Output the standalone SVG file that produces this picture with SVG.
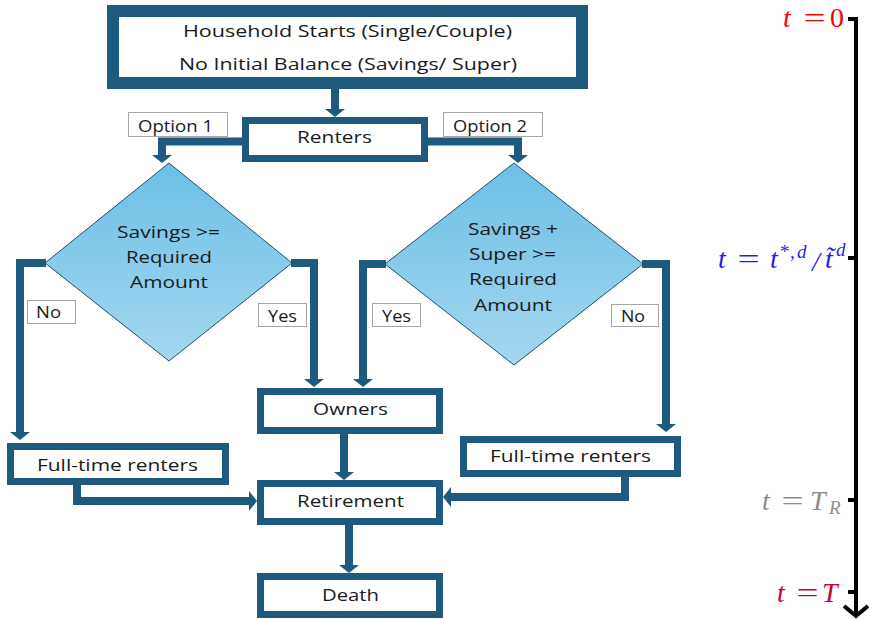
<svg xmlns="http://www.w3.org/2000/svg" width="870" height="619" viewBox="0 0 870 619">
<defs>
<style>
.box{fill:#fff;stroke:#1d5a7e;}
.t{font-family:"Open Sans","Liberation Sans",sans-serif;font-size:17px;fill:#1a1a1a;text-anchor:middle;}
.lbl{fill:#fff;stroke:#a6a6a6;stroke-width:1;}
.conn{fill:none;stroke:#1d5a7e;stroke-width:8;stroke-linejoin:miter;marker-end:url(#ah);}
.dia{fill:url(#dg);stroke:#1e4e6a;stroke-width:1;}
.m{font-family:"Liberation Serif","Times New Roman",serif;font-size:28px;}
.mi{font-style:italic;}
.eq{text-anchor:middle;}
.tl{fill:none;stroke:#000;stroke-width:4;}
</style>
<linearGradient id="dg" x1="0" y1="0" x2="0" y2="1">
<stop offset="0" stop-color="#6cbfe7"/>
<stop offset="1" stop-color="#a4d7f0"/>
</linearGradient>
<marker id="ah" markerUnits="userSpaceOnUse" viewBox="0 -10 8 20" refX="0" refY="0" markerWidth="8" markerHeight="20" orient="auto">
<path d="M0,-10 L8,0 L0,10 z" fill="#1d5a7e"/>
</marker>
</defs>

<g id="connectors">
<path class="conn" d="M335,89 V109"/>
<path class="conn" d="M242,141.5 H162 V155"/>
<path class="conn" d="M428,141.5 H518 V155"/>
<path class="conn" d="M46,263 H20 V432"/>
<path class="conn" d="M291,263 H314 V379"/>
<path class="conn" d="M386,264 H363 V379"/>
<path class="conn" d="M642,264 H666 V424"/>
<path class="conn" d="M344,434 V472"/>
<path class="conn" d="M77,485 V501 H249"/>
<path class="conn" d="M625,477 V497 H451"/>
<path class="conn" d="M349,525 V565"/>
</g>

<g id="start">
<rect class="box" x="113" y="11" width="469" height="72" stroke-width="12"/>
<text class="t" x="347.5" y="37" textLength="329" lengthAdjust="spacingAndGlyphs">Household Starts (Single/Couple)</text>
<text class="t" x="348" y="70" textLength="338" lengthAdjust="spacingAndGlyphs">No Initial Balance (Savings/ Super)</text>
</g>

<g id="renters">
<rect class="box" x="245.5" y="120.5" width="179" height="38" stroke-width="7"/>
<text class="t" x="334.5" y="143" textLength="75" lengthAdjust="spacingAndGlyphs">Renters</text>
</g>

<g id="option1">
<rect class="lbl" x="128.5" y="112.5" width="99" height="24"/>
<text class="t" x="175.5" y="132" font-size="16" textLength="75" lengthAdjust="spacingAndGlyphs">Option 1</text>
</g>
<g id="option2">
<rect class="lbl" x="443.5" y="112.5" width="99" height="24"/>
<text class="t" x="490" y="132" font-size="16" textLength="74" lengthAdjust="spacingAndGlyphs">Option 2</text>
</g>

<g id="decision1">
<polygon class="dia" points="169,163 292,263 169,361 45,263"/>
<text class="t" x="168.5" y="238" textLength="103" lengthAdjust="spacingAndGlyphs">Savings &gt;=</text>
<text class="t" x="169" y="263" textLength="86" lengthAdjust="spacingAndGlyphs">Required</text>
<text class="t" x="169" y="288" textLength="78" lengthAdjust="spacingAndGlyphs">Amount</text>
</g>

<g id="decision2">
<polygon class="dia" points="514,163 643,264 514,365 385,264"/>
<text class="t" x="513" y="235" textLength="90" lengthAdjust="spacingAndGlyphs">Savings +</text>
<text class="t" x="512.5" y="260" textLength="87" lengthAdjust="spacingAndGlyphs">Super &gt;=</text>
<text class="t" x="513" y="285" textLength="88" lengthAdjust="spacingAndGlyphs">Required</text>
<text class="t" x="513" y="311" textLength="78" lengthAdjust="spacingAndGlyphs">Amount</text>
</g>

<g id="no1">
<rect class="lbl" x="27.5" y="300.5" width="48" height="23"/>
<text class="t" x="48.5" y="318" textLength="25" lengthAdjust="spacingAndGlyphs">No</text>
</g>
<g id="yes1">
<rect class="lbl" x="258.5" y="303.5" width="48" height="23"/>
<text class="t" x="282.5" y="322" textLength="29" lengthAdjust="spacingAndGlyphs">Yes</text>
</g>
<g id="yes2">
<rect class="lbl" x="372.5" y="303.5" width="48" height="23"/>
<text class="t" x="396.5" y="322" textLength="29" lengthAdjust="spacingAndGlyphs">Yes</text>
</g>
<g id="no2">
<rect class="lbl" x="611.5" y="304.5" width="47" height="22"/>
<text class="t" x="633" y="322" textLength="24" lengthAdjust="spacingAndGlyphs">No</text>
</g>

<g id="owners">
<rect class="box" x="260.5" y="391.5" width="179" height="39" stroke-width="7"/>
<text class="t" x="350.5" y="415" textLength="75" lengthAdjust="spacingAndGlyphs">Owners</text>
</g>

<g id="ftr-left">
<rect class="box" x="10.5" y="446.5" width="215" height="35" stroke-width="7"/>
<text class="t" x="117.5" y="471" textLength="161" lengthAdjust="spacingAndGlyphs">Full-time renters</text>
</g>

<g id="ftr-right">
<rect class="box" x="463.5" y="439.5" width="214" height="34" stroke-width="7"/>
<text class="t" x="570.5" y="462" textLength="161" lengthAdjust="spacingAndGlyphs">Full-time renters</text>
</g>

<g id="retirement">
<rect class="box" x="260.5" y="483.5" width="179" height="38" stroke-width="7"/>
<text class="t" x="350.5" y="507" textLength="107" lengthAdjust="spacingAndGlyphs">Retirement</text>
</g>

<g id="death">
<rect class="box" x="260.5" y="576.5" width="179" height="38" stroke-width="7"/>
<text class="t" x="350.5" y="601" textLength="57" lengthAdjust="spacingAndGlyphs">Death</text>
</g>

<g id="timeline">
<path class="tl" d="M848,19 H856 V615"/>
<path class="tl" d="M848,258 H856 M848,500 H856 M848,592 H856"/>
<path class="tl" d="M844,606 L856,616 L868,606"/>
<text class="m" fill="#ff0000"><tspan class="mi" x="783" y="27">t</tspan><tspan x="830" y="27">0</tspan></text>
<text class="m eq" fill="#ff0000" transform="translate(814.5,27) scale(1.4,1)">=</text>
<text class="m" fill="#1f1ff5"><tspan class="mi" x="718" y="268">t</tspan><tspan class="mi" x="770" y="268">t</tspan><tspan x="780" y="258" font-size="19">*</tspan><tspan x="790" y="258" font-size="19">,</tspan><tspan class="mi" x="797" y="258" font-size="19">d</tspan><tspan class="mi" x="812" y="271">/</tspan><tspan class="mi" x="825" y="268">t̃</tspan><tspan class="mi" x="836" y="256" font-size="19">d</tspan></text>
<text class="m eq" fill="#1f1ff5" transform="translate(748.5,268) scale(1.4,1)">=</text>
<text class="m" fill="#8c8c8c"><tspan class="mi" x="762" y="510">t</tspan><tspan class="mi" x="810" y="510">T</tspan><tspan class="mi" x="829" y="514" font-size="19">R</tspan></text>
<text class="m eq" fill="#8c8c8c" transform="translate(792.5,510) scale(1.4,1)">=</text>
<text class="m" fill="#c8003c"><tspan class="mi" x="777" y="602">t</tspan><tspan class="mi" x="822" y="602">T</tspan></text>
<text class="m eq" fill="#c8003c" transform="translate(807.5,602) scale(1.4,1)">=</text>
</g>
</svg>
